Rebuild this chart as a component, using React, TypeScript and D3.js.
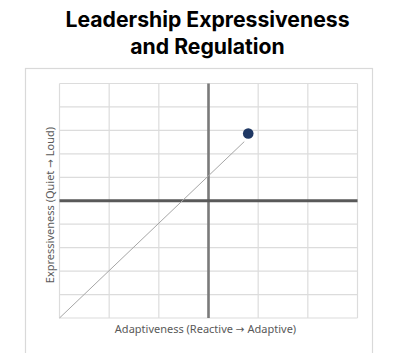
import React from "react";
import * as d3 from "d3";

const titleLines = ["Leadership Expressiveness", "and Regulation"];
const xTitleParts = ["Adaptiveness (Reactive ", "→", " Adaptive)"];
const yTitleParts = ["Expressiveness (Quiet ", "→", " Loud)"];
const xDomain = [-3, 3];
const yDomain = [-5, 5];
const xTicks = [-3, -2, -1, 0, 1, 2, 3];
const yTicks = [-5, -4, -3, -2, -1, 0, 1, 2, 3, 4, 5];
const trendX = [-3, 0.72];
const trendY = [-5, 2.52];
const dotX = [0.8];
const dotY = [2.87];

export default function App() {
  const W = 410, H = 353;
  const x = d3.scaleLinear().domain(xDomain).range([59.5, 357.5]);
  const y = d3.scaleLinear().domain(yDomain).range([318, 83.5]);
  const line = d3.line<number>().x((_, i) => x(trendX[i])).y((_, i) => y(trendY[i]));
  const font = "'Segoe UI', 'Noto Sans', 'Open Sans', sans-serif";
  const arrowFont = "'DejaVu Sans', sans-serif";
  return (
    <svg width={W} height={H} style={{ position: "fixed", left: 0, top: 0, background: "#fff" }}>
      <rect x={0} y={0} width={W} height={H} fill="#fff" />
      <text x={207.5} y={27} textAnchor="middle" fontFamily="Inter, 'Noto Sans', sans-serif" fontWeight={700} fontSize={21.2} fill="#000">
        {titleLines[0]}
      </text>
      <text x={207.5} y={53.5} textAnchor="middle" fontFamily="Inter, 'Noto Sans', sans-serif" fontWeight={700} fontSize={21.2} fill="#000">
        {titleLines[1]}
      </text>
      <rect x={25.5} y={68.5} width={347} height={300} fill="none" stroke="#d9d9d9" strokeWidth={1.2} />
      {xTicks.filter((t) => t !== 0).map((t) => (
        <line key={"gx" + t} x1={x(t)} x2={x(t)} y1={y(yDomain[0])} y2={y(yDomain[1])} stroke="#dcdcdc" strokeWidth={1.2} />
      ))}
      {yTicks.filter((t) => t !== 0).map((t) => (
        <line key={"gy" + t} x1={x(xDomain[0])} x2={x(xDomain[1])} y1={y(t)} y2={y(t)} stroke="#dcdcdc" strokeWidth={1.2} />
      ))}
      <line x1={x(0)} x2={x(0)} y1={y(yDomain[0])} y2={y(yDomain[1])} stroke="#7a7a7a" strokeWidth={2.6} />
      <line x1={x(xDomain[0])} x2={x(xDomain[1])} y1={y(0)} y2={y(0)} stroke="#595959" strokeWidth={2.8} />
      <path d={line(trendX) || ""} fill="none" stroke="#a6a6a6" strokeWidth={1} />
      {dotX.map((d, i) => (
        <circle key={i} cx={x(d)} cy={y(dotY[i])} r={5.3} fill="#1f3864" />
      ))}
      <text x={205.5} y={333} textAnchor="middle" fontFamily={font} fontSize={11} fill="#595959">
        {xTitleParts[0]}
        <tspan fontFamily={arrowFont} fontSize={10.5}>{xTitleParts[1]}</tspan>
        {xTitleParts[2]}
      </text>
      <text transform={`translate(54,205) rotate(-90)`} textAnchor="middle" fontFamily={font} fontSize={11} fill="#595959">
        {yTitleParts[0]}
        <tspan fontFamily={arrowFont} fontSize={10.5}>{yTitleParts[1]}</tspan>
        {yTitleParts[2]}
      </text>
    </svg>
  );
}
